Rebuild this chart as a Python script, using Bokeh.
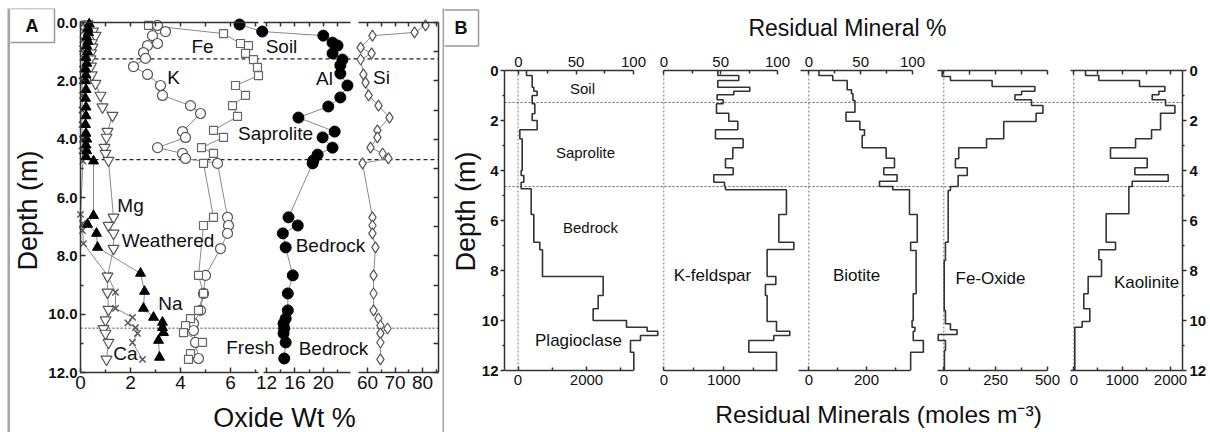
import math
from bokeh.plotting import figure
from bokeh.models import Range1d, LinearAxis, Label, FixedTicker, PrintfTickFormatter, Spacer
from bokeh.layouts import row, column
from bokeh.embed import file_html
from bokeh.resources import INLINE

FONT = "Liberation Sans"

# ---------------- Panel A data (oxide wt %, depth m) ----------------
ca_depth = [0.05, 0.3, 0.6, 0.9, 1.2, 1.6, 2.0, 2.5, 3.0, 3.5, 4.0, 4.4, 4.75,
            6.58, 6.9, 7.13, 7.58, 8.67, 9.25, 9.8, 10.11, 10.3, 10.46, 10.66, 10.97, 11.55]
ca_wt = [0.1, 0.12, 0.1, 0.08, 0.1, 0.08, 0.06, 0.08, 0.06, 0.06, 0.08, 0.06, 0.1,
         0.0, 0.08, 0.08, 0.12, 1.08, 1.4, 1.4, 2.08, 1.9, 2.2, 2.28, 2.08, 2.48]

na_depth = [0.05, 0.2, 0.35, 0.5, 0.65, 0.8, 1.0, 1.2, 1.4, 1.6, 1.8, 2.0, 2.3, 2.6, 2.9, 3.2,
            3.5, 3.8, 4.0, 4.2, 4.4, 4.6, 4.75, 6.62, 6.92, 7.23, 7.71, 8.6, 9.22, 9.8, 10.11,
            10.28, 10.46, 10.63, 10.9, 11.48]
na_wt = [0.35, 0.3, 0.32, 0.25, 0.3, 0.25, 0.28, 0.22, 0.25, 0.2, 0.22, 0.2, 0.22, 0.2, 0.22, 0.22,
         0.2, 0.22, 0.25, 0.22, 0.25, 0.22, 0.52, 0.52, 0.28, 0.64, 0.68, 2.4, 2.56, 2.52, 2.92,
         3.28, 3.28, 3.32, 3.12, 3.16]

mg_depth = [0.05, 0.3, 0.45, 0.7, 0.85, 1.05, 1.25, 1.5, 1.8, 2.09, 2.5, 2.9, 3.19, 3.74, 3.94,
            4.29, 4.49, 4.73, 6.68, 6.96, 7.23, 7.75, 8.7, 9.25, 9.84, 10.2, 10.5, 10.66, 10.97, 11.55]
mg_wt = [0.28, 0.5, 0.6, 0.45, 0.48, 0.42, 0.4, 0.42, 0.45, 0.6, 0.8, 0.88, 1.28, 1.08, 1.04,
         0.96, 1.0, 1.12, 1.32, 1.12, 1.32, 1.32, 1.08, 1.08, 1.12, 1.0, 0.92, 1.0, 1.12, 1.04]

k_depth = [0.10, 0.31, 0.45, 0.72, 0.79, 1.03, 1.23, 1.51, 1.78, 2.16, 2.5, 2.85, 3.12, 3.74, 3.94,
           4.29, 4.49, 4.66, 4.83, 6.68, 6.96, 7.23, 7.75, 8.67, 9.29, 9.87, 10.32, 10.56, 10.97, 11.52]
k_wt = [3.08, 3.4, 2.88, 3.08, 2.68, 2.52, 2.6, 2.12, 2.68, 3.2, 3.28, 4.4, 4.8, 4.08, 4.2,
        3.08, 4.08, 4.2, 5.48, 5.88, 5.92, 5.88, 5.6, 5.0, 4.92, 4.8, 4.52, 4.52, 4.6, 4.72]

fe_depth = [0.10, 0.38, 0.72, 0.79, 1.06, 1.27, 1.54, 1.82, 2.16, 2.5, 2.85, 3.22, 3.7, 3.94, 4.29,
            4.49, 4.83, 6.68, 6.96, 8.67, 9.29, 9.87, 10.15, 10.39, 10.63, 10.97, 11.35, 11.55]
fe_wt = [2.72, 5.72, 6.4, 6.72, 6.6, 6.92, 7.08, 7.12, 6.2, 6.6, 6.08, 6.28, 5.32, 5.72, 4.84,
         5.32, 4.92, 5.32, 4.92, 4.72, 4.92, 4.72, 4.4, 4.2, 4.12, 4.88, 4.4, 4.32]

al_depth = [0.07, 0.31, 0.45, 0.69, 0.79, 1.06, 1.27, 1.47, 1.75, 2.16, 2.57, 2.88, 3.26, 3.74, 3.94,
            4.29, 4.53, 4.73, 4.83, 6.68, 6.96, 7.23, 7.71, 8.67, 9.29, 9.87, 10.15, 10.32, 10.49,
            10.66, 10.97, 11.52]
al_wt = [8.2, 11.4, 20.0, 21.3, 22.0, 21.3, 22.7, 22.4, 22.4, 23.4, 22.4, 20.7, 16.5, 21.6, 19.9,
         21.3, 19.2, 18.6, 18.5, 15.1, 16.4, 14.3, 14.7, 15.7, 15.0, 15.0, 14.7, 14.4, 14.5,
         14.4, 14.7, 14.5]

si_depth = [0.10, 0.34, 0.45, 0.86, 1.06, 1.27, 1.78, 2.06, 2.5, 2.85, 3.26, 3.7, 3.94, 4.29, 4.49,
            4.66, 4.83, 6.68, 6.96, 7.23, 7.71, 8.67, 9.29, 9.87, 10.15, 10.39, 10.49, 10.66, 10.97, 11.55]
si_wt = [81.1, 77.1, 61.8, 57.5, 61.5, 57.5, 58.5, 59.3, 60.4, 64.0, 68.0, 63.6, 63.6, 61.1, 65.5,
         67.6, 58.2, 61.8, 61.8, 61.8, 62.9, 62.2, 62.2, 62.2, 64.0, 64.7, 67.3, 64.7, 64.7, 64.7]

horizon_a = [1.25, 4.7]      # soil/saprolite, saprolite/bedrock
fresh_a = [10.48]            # weathered / fresh bedrock

a_labels = ["Fe", "Soil", "K", "Al", "Si", "Saprolite", "Mg", "Weathered", "Bedrock",
            "Na", "Ca", "Fresh", "Bedrock"]
a_label_x = [4.88, 8.04, 3.72, 9.76, 12.04, 7.8, 2.0, 3.5, 10.0, 3.6, 1.8, 6.8, 10.12]
a_label_d = [0.82, 0.82, 1.89, 1.92, 1.89, 3.8, 6.27, 7.46, 7.66, 9.63, 11.35, 11.14, 11.18]

# ---------------- Panel B data (residual minerals, moles m^-3) ----------------
plag_top = [0, 0.2, 0.67, 0.83, 1.0, 1.33, 1.73, 2.0, 2.37, 2.73, 4.0, 4.2, 4.47, 4.73, 5.76,
            6.87, 7.17, 8.24, 9.0, 9.53, 10.0, 10.27, 10.43, 10.6, 10.8, 11.27, 12.0]
plag_mol = [248, 414, 462, 559, 414, 491, 414, 559, 54, 122, 92, 170, 92, 384, 462,
            637, 715, 2486, 2340, 2194, 3167, 3770, 4082, 3576, 3284, 3381]

kfs_top = [0, 0.2, 0.4, 0.67, 0.83, 0.97, 1.17, 1.33, 1.71, 2.03, 2.37, 2.73, 3.09, 3.53, 3.89,
           4.17, 4.47, 4.64, 4.77, 5.76, 6.87, 7.16, 8.24, 8.56, 9.0, 10.04, 10.43, 10.6, 10.8,
           11.27, 12.0]
kfs_mol = [900, 1250, 900, 1433, 1167, 889, 989, 878, 1083, 1233, 861, 1322, 1150, 1028, 1156,
           833, 1011, 1028, 2044, 1917, 2167, 1722, 1867, 1694, 1722, 1878, 2100, 1833, 1417, 1878]

bio_top = [0, 0.2, 0.4, 0.77, 0.93, 1.2, 1.67, 2.03, 2.37, 2.6, 3.09, 3.51, 3.89, 4.17, 4.43,
           4.64, 4.77, 5.76, 6.87, 7.2, 8.93, 10.0, 10.27, 10.43, 10.8, 11.27, 12.0]
bio_mol = [35, 83, 133, 148, 153, 160, 129, 177, 193, 185, 268, 297, 260, 306, 245,
           291, 349, 376, 353, 372, 362, 358, 368, 362, 397, 353]

feox_top = [0, 0.24, 0.4, 0.64, 0.83, 0.97, 1.17, 1.4, 1.71, 2.04, 2.73, 3.09, 3.53, 3.89, 4.2,
            4.64, 4.8, 6.87, 7.6, 9.6, 10.13, 10.37, 10.56, 10.8, 11.2, 12.0]
feox_mol = [-8, 32, 233, 439, 375, 343, 423, 478, 445, 289, 206, 72, 56, 113, 69,
            32, 21, 8, 2, 8, 32, 64, -27, 8, 3]

kaol_top = [0, 0.2, 0.4, 0.64, 0.83, 0.97, 1.17, 1.4, 1.71, 2.37, 2.73, 3.09, 3.51, 3.89, 4.17,
            4.43, 4.64, 5.73, 6.87, 7.17, 7.57, 8.24, 8.93, 9.53, 10.04, 10.27, 12.0]
kaol_mol = [242, 518, 1359, 1884, 1760, 1622, 1898, 2091, 1794, 1608, 1277, 759, 1518, 1263, 1953,
            1208, 1139, 669, 863, 518, 573, 297, 207, 331, 173, 21]

horizon_b = [1.28, 4.64]

mineral_names = ["Plagioclase", "K-feldspar", "Biotite", "Fe-Oxide", "Kaolinite"]
b_regions = ["Soil", "Saprolite", "Bedrock"]

depth_ticks = [0, 2, 4, 6, 8, 10, 12]
depth_minor = [1, 3, 5, 7, 9, 11]

# ---------------- helpers ----------------
GRAY = "#a6a6a6"
AX = "#333333"


def bar(w, h):
    f = figure(width=w, height=h, toolbar_location=None, min_border=0,
               x_axis_location=None, y_axis_location=None, outline_line_color=None,
               border_fill_color=GRAY, background_fill_color=GRAY, output_backend="svg")
    f.grid.visible = False
    return f


def style_axis(ax, tin=0, tout=0, mtin=0, mtout=0, size="15px", bold=False, standoff=3, lw=1.5):
    ax.axis_line_color = AX
    ax.axis_line_width = lw
    ax.major_tick_line_color = AX
    ax.major_tick_line_width = lw
    ax.minor_tick_line_color = AX
    ax.minor_tick_line_width = lw
    ax.major_tick_in = tin
    ax.major_tick_out = tout
    ax.minor_tick_in = mtin
    ax.minor_tick_out = mtout
    ax.major_label_text_font = FONT
    ax.major_label_text_font_size = size
    ax.major_label_text_font_style = "bold" if bold else "normal"
    ax.major_label_text_color = "#111111"
    ax.major_label_standoff = standoff


def boxed(p, x, y, text, pad_x, pad_y):
    base = dict(x=x, y=y, text=text, text_font=FONT, text_font_size="18px",
                text_font_style="bold", text_align="center", text_baseline="middle",
                text_color="#111111", border_line_color="#9a9a9a", border_line_width=1.5,
                background_fill_color="white")
    try:
        lab = Label(padding=dict(left=pad_x, right=pad_x, top=pad_y, bottom=pad_y), **base)
    except Exception:
        try:
            lab = Label(padding=pad_y, **base)
        except Exception:
            lab = Label(**base)
    p.add_layout(lab)


def text(p, x, y, s, size, **kw):
    p.add_layout(Label(x=x, y=y, text=s, text_font=FONT, text_font_size=size,
                       text_align="center", text_baseline="middle", text_color="#111111", **kw))


# ---------------- Panel A (canvas spans page px x 10..442, y 8..432) ----------------
A_L, A_R, A_T, A_B = 10, 442, 8, 432
A_FL, A_FR = 80, 438                        # plot-box left / right
A_Y0, A_PXM = 22, 350 / 12.0                # depth 0 position, px per metre
S1_PX = 25.0                                # segment 1: px per wt% (0 at A_FL)
S2_V, S2_X, S2_PX = 12, 266, 7.1            # segment 2 anchor
S3_V, S3_X, S3_PX = 60, 367, 2.75           # segment 3 anchor

pa = figure(width=A_R - A_L, height=A_B - A_T,
            x_range=Range1d((A_L - A_FL) / S1_PX, (A_R - A_FL) / S1_PX),
            y_range=Range1d((A_B - A_Y0) / A_PXM, (A_T - A_Y0) / A_PXM),
            min_border=0, toolbar_location=None, output_backend="svg",
            x_axis_location=None, y_axis_location=None, outline_line_color=None)
pa.grid.visible = False
pa.extra_x_ranges = {
    "seg2": Range1d(S2_V + (A_L - S2_X) / S2_PX, S2_V + (A_R - S2_X) / S2_PX),
    "seg3": Range1d(S3_V + (A_L - S3_X) / S3_PX, S3_V + (A_R - S3_X) / S3_PX),
}

segs = [(None, (0, 7.1), [0, 2, 4, 6], [1, 3, 5, 7]),
        ("seg2", (11.6, 23.8), [12, 16, 20], [14, 18, 22]),
        ("seg3", (56.9, (A_FR - S3_X) / S3_PX + S3_V), [60, 70, 80], [65, 75, 85])]
for name, bnds, maj, mnr in segs:
    kw = {} if name is None else {"x_range_name": name}
    ax = LinearAxis(bounds=bnds, ticker=FixedTicker(ticks=maj, minor_ticks=mnr),
                    fixed_location=12, **kw)
    style_axis(ax, tin=5, tout=0, mtin=3, mtout=0, size="19px", standoff=3)
    pa.add_layout(ax, "below")
    ax = LinearAxis(bounds=bnds, ticker=FixedTicker(ticks=[], minor_ticks=sorted(maj + mnr)),
                    fixed_location=0, **kw)
    style_axis(ax, mtin=4)
    pa.add_layout(ax, "above")

ya = LinearAxis(bounds=(0, 12), ticker=FixedTicker(ticks=depth_ticks, minor_ticks=depth_minor),
                formatter=PrintfTickFormatter(format="%.1f"), fixed_location=0)
style_axis(ya, tin=5, tout=0, mtin=3, mtout=0, size="15px", bold=True, standoff=3)
pa.add_layout(ya, "left")
yar = LinearAxis(bounds=(0, 12), ticker=FixedTicker(ticks=[], minor_ticks=list(range(0, 13))),
                 fixed_location=(A_FR - A_FL) / S1_PX)
style_axis(yar, mtin=5)
pa.add_layout(yar, "right")

A_XMAX = (A_FR - A_FL) / S1_PX
pa.segment(x0=[0] * len(horizon_a), x1=[A_XMAX] * len(horizon_a), y0=horizon_a, y1=horizon_a,
           line_color="#222222", line_width=1.3, line_dash="4 3")
pa.segment(x0=[0] * len(fresh_a), x1=[A_XMAX] * len(fresh_a), y0=fresh_a, y1=fresh_a,
           line_color="#444444", line_width=1, line_dash="2 2")

LINE = "#8a8a8a"
series = [
    (ca_wt, ca_depth, None, "x", dict(size=9, line_color="#555555", line_width=1.4)),
    (mg_wt, mg_depth, None, "inverted_triangle", dict(size=11, fill_color="white", line_color="#555555", line_width=1.2)),
    (na_wt, na_depth, None, "triangle", dict(size=10, fill_color="black", line_color="black")),
    (k_wt, k_depth, None, "circle", dict(size=10, fill_color="white", line_color="#555555", line_width=1.2)),
    (fe_wt, fe_depth, None, "square", dict(size=8, fill_color="white", line_color="#666666", line_width=1.2)),
    (al_wt, al_depth, "seg2", "circle", dict(size=11, fill_color="black", line_color="black")),
    (si_wt, si_depth, "seg3", "diamond", dict(size=11, fill_color="white", line_color="#555555", line_width=1.2)),
]
for xs, ys, rn, mk, st in series:
    kw = {} if rn is None else {"x_range_name": rn}
    pa.line(xs, ys, line_color=LINE, line_width=1, **kw)
for xs, ys, rn, mk, st in series:
    kw = {} if rn is None else {"x_range_name": rn}
    pa.scatter(xs, ys, marker=mk, **st, **kw)

for s, x, d in zip(a_labels, a_label_x, a_label_d):
    text(pa, x, d, s, "19px")

text(pa, (284 - A_FL) / S1_PX, (417 - A_Y0) / A_PXM, "Oxide Wt %", "27px")
text(pa, (27 - A_FL) / S1_PX, (210 - A_Y0) / A_PXM, "Depth (m)", "27px", angle=math.pi / 2)
boxed(pa, (31.5 - A_FL) / S1_PX, (25 - A_Y0) / A_PXM, "A", 16, 7)

# ---------------- Panel B (canvas spans page px x 444..1210, y 8..432) ----------------
B_L, B_R, B_T, B_B = 444, 1210, 8, 432
B_FL, B_FR = 504, 1182
B_Y0, B_PXM = 70, 25.0

pb = figure(width=B_R - B_L, height=B_B - B_T,
            x_range=Range1d(B_L - B_FL, B_R - B_FL),
            y_range=Range1d((B_B - B_Y0) / B_PXM, (B_T - B_Y0) / B_PXM),
            min_border=0, toolbar_location=None, output_backend="svg",
            x_axis_location=None, y_axis_location=None, outline_line_color=None)
pb.grid.visible = False


def rng(x0, s):
    return Range1d((B_L - x0) / s, (B_R - x0) / s)


# name, tops, values, zero px, px per mole, pct-zero px, px per %, bottom bounds, ticks, minor, top % bounds
minerals = [
    ("plag", plag_top, plag_mol, 517.5, 68.5 / 2000, 518.0, 1.15, (-394, 3370), [0, 2000], [1000, 3000], (-12.2, 100)),
    ("kfs", kfs_top, kfs_mol, 663.3, 60.0 / 1000, 663.3, 1.137, (0, 1895), [0, 1000], [500, 1500], (0, 100)),
    ("bio", bio_top, bio_mol, 808.3, 57.7 / 200, 808.3, 1.037, (-35, 352), [0, 200], [100, 300], (-7.7, 100)),
    ("feox", feox_top, feox_mol, 943.3, 103.7 / 500, None, None, (-30, 500), [0, 250, 500], [125, 375], None),
    ("kaol", kaol_top, kaol_mol, 1073.3, 96.7 / 2000, None, None, (-60, 2248), [0, 1000, 2000], [500, 1500], None),
]

B_XMAX = B_FR - B_FL
pb.segment(x0=[0] * len(horizon_b), x1=[B_XMAX] * len(horizon_b), y0=horizon_b, y1=horizon_b,
           line_color="#666666", line_width=1, line_dash="2 2")

for (nm, tops, mols, x0, s, px0, ps, bb, bt, bm, tb) in minerals:
    pb.extra_x_ranges[nm] = rng(x0, s)
    ax = LinearAxis(x_range_name=nm, bounds=bb, ticker=FixedTicker(ticks=bt, minor_ticks=bm),
                    fixed_location=12)
    style_axis(ax, tin=4, tout=0, mtin=3, mtout=0, size="15px", standoff=4)
    pb.add_layout(ax, "below")
    if px0 is not None:
        pb.extra_x_ranges[nm + "_pct"] = rng(px0, ps)
        ta = LinearAxis(x_range_name=nm + "_pct", bounds=tb,
                        ticker=FixedTicker(ticks=[0, 50, 100], minor_ticks=[25, 75]), fixed_location=0)
        style_axis(ta, tin=4, tout=0, mtin=3, mtout=0, size="15px", standoff=4)
    else:
        ta = LinearAxis(x_range_name=nm, bounds=bb,
                        ticker=FixedTicker(ticks=[], minor_ticks=sorted(bt + bm)), fixed_location=0)
        style_axis(ta, mtin=4)
    pb.add_layout(ta, "above")
    pb.segment(x0=[0], x1=[0], y0=[0], y1=[12], x_range_name=nm, line_color="#777777",
               line_width=1, line_dash="2 2")
    xs, ys = [], []
    for i, v in enumerate(mols):
        xs += [v, v]
        ys += [tops[i], tops[i + 1]]
    pb.line(xs, ys, x_range_name=nm, line_color="#333333", line_width=1.6)

yb = LinearAxis(bounds=(0, 12), ticker=FixedTicker(ticks=depth_ticks, minor_ticks=depth_minor),
                fixed_location=0)
style_axis(yb, tin=0, tout=4, mtin=0, mtout=2, size="15px", bold=True, standoff=2)
pb.add_layout(yb, "left")
ybr = LinearAxis(bounds=(0, 12), ticker=FixedTicker(ticks=depth_ticks, minor_ticks=depth_minor),
                 fixed_location=B_XMAX)
style_axis(ybr, tin=0, tout=4, mtin=0, mtout=2, size="15px", bold=True, standoff=3)
pb.add_layout(ybr, "right")

reg_pos = [(582, 87.5), (585, 151.7), (590, 227)]
for s, (px, py) in zip(b_regions, reg_pos):
    text(pb, px - B_FL, (py - B_Y0) / B_PXM, s, "15px")
min_pos = [(578, 340), (712, 275), (856, 275), (990, 278), (1146, 282)]
for s, (px, py) in zip(mineral_names, min_pos):
    text(pb, px - B_FL, (py - B_Y0) / B_PXM, s, "17px")

text(pb, 847 - B_FL, (27 - B_Y0) / B_PXM, "Residual Mineral %", "23px")
text(pb, 878 - B_FL, (414 - B_Y0) / B_PXM, "Residual Minerals (moles m\u207b\u00b3)", "24.5px")
text(pb, 465 - B_FL, (211 - B_Y0) / B_PXM, "Depth (m)", "27px", angle=math.pi / 2)
boxed(pb, 460.5 - B_FL, (27.5 - B_Y0) / B_PXM, "B", 11, 8)

layout = column(
    Spacer(width=10, height=6),
    row(Spacer(width=7, height=2), bar(1203, 2)),
    row(Spacer(width=7, height=A_B - A_T), bar(3, A_B - A_T), pa, bar(2, B_B - B_T), pb),
)

open("out.html", "w").write(file_html(layout, INLINE))
